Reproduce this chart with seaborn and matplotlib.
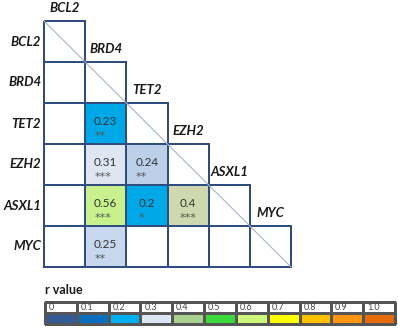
import numpy as np
import pandas as pd
import matplotlib
matplotlib.use("Agg")
import matplotlib.pyplot as plt
from matplotlib.colors import ListedColormap, BoundaryNorm, to_rgba
import seaborn as sns

# -----------------------------
# DATA
# -----------------------------
genes = ["BCL2", "BRD4", "TET2", "EZH2", "ASXL1", "MYC"]

# lower-triangle pairs with a significant correlation
pair_row = ["TET2", "EZH2", "EZH2", "ASXL1", "ASXL1", "ASXL1", "MYC"]
pair_col = ["BRD4", "BRD4", "TET2", "BRD4", "TET2", "EZH2", "BRD4"]
r_values = [0.23, 0.31, 0.24, 0.56, 0.2, 0.4, 0.25]
stars = ["**", "***", "**", "***", "*", "***", "**"]

legend_ticks = ["0", "0.1", "0.2", "0.3", "0.4", "0.5", "0.6", "0.7", "0.8", "0.9", "1.0"]

# -----------------------------
# STYLE
# -----------------------------
sns.set_theme(style="white")
plt.rcParams["font.family"] = ["Lato", "DejaVu Sans"]

border = "#2f4d7e"
cell_bounds = [0.0, 0.215, 0.235, 0.245, 0.28, 0.35, 0.48, 1.0]
cell_colors = ["#00a8e8", "#00a8e8", "#bcd0ea", "#c6d7ee", "#dde6f1", "#cfd8ae", "#c8f08c"]
legend_colors = ["#345a96", "#0a6fc0", "#00b0f0", "#dce6f2", "#a9d18e", "#3cd93c",
                 "#cdf77a", "#ffff00", "#ffc000", "#ff9410", "#e46c0a"]

# matrix of r values (NaN where nothing shown)
n = len(genes)
mat = pd.DataFrame(np.nan, index=genes, columns=genes)
for r, c, v in zip(pair_row, pair_col, r_values):
    mat.loc[r, c] = v

fig = plt.figure(figsize=(3.98, 3.28), dpi=100)
ax = fig.add_axes([44 / 398, 1 - 267 / 328, 247 / 398, 246 / 328])

upper = np.triu(np.ones((n, n), dtype=bool), k=1)

# white staircase (lower triangle incl. diagonal)
sns.heatmap(np.zeros((n, n)), mask=upper, cmap=ListedColormap(["white"]),
            cbar=False, ax=ax)

# coloured cells
sns.heatmap(mat, cmap=ListedColormap(cell_colors),
            norm=BoundaryNorm(cell_bounds, len(cell_colors)),
            cbar=False, ax=ax)

# cell outlines, only on the staircase
sns.heatmap(np.zeros((n, n)), cmap=ListedColormap(["white"]), cbar=False,
            linewidths=1.3, linecolor=border, ax=ax)
outline = ax.collections[-1]
outline.set_facecolor("none")
edge = [to_rgba(border) if not upper[i, j] else (0, 0, 0, 0)
        for i in range(n) for j in range(n)]
outline.set_edgecolor(edge)
outline.set_clip_on(False)

# diagonal line
ax.plot([0, n], [0, n], color="#a7b5c6", lw=0.8, clip_on=False)

# annotations: r value centred, stars underneath starting at its left edge
for r, c, v, s in zip(pair_row, pair_col, r_values, stars):
    i = genes.index(r)
    j = genes.index(c)
    label = f"{v:g}"
    ax.text(j + 0.5, i + 0.44, label, ha="center", va="center",
            fontsize=8.5, color="#333333")
    ax.text(j + 0.5 - 0.07 * len(label), i + 0.80, s, ha="left", va="center",
            fontsize=8, color="#555555", family="DejaVu Sans")

# row labels
ax.set_yticks(np.arange(n) + 0.5)
ax.set_yticklabels(genes, rotation=0, fontsize=9.5, fontweight="bold",
                   fontstyle="italic", color="#1a1a1a")
ax.set_xticks([])
ax.tick_params(axis="y", length=0, pad=2)
ax.set_xlabel("")
ax.set_ylabel("")

# column labels on the steps
for j, g in enumerate(genes):
    ax.text(j + 0.5, j - 0.32, g, ha="center", va="center", fontsize=9.5,
            fontweight="bold", fontstyle="italic", color="#1a1a1a", clip_on=False)

# -----------------------------
# LEGEND (r value scale)
# -----------------------------
fig.text(45 / 398, 1 - 290 / 328, "r value", fontsize=9, fontweight="bold",
         color="#1a1a1a", va="center", ha="left")

lax = fig.add_axes([45 / 398, 1 - 324 / 328, 350 / 398, 22 / 328])
k = len(legend_ticks)
leg_vals = np.vstack([np.full(k, -1.0), np.arange(k)])
sns.heatmap(leg_vals, cmap=ListedColormap(["white"] + legend_colors),
            vmin=-1.5, vmax=k - 0.5, cbar=False, linewidths=0.8,
            linecolor="#555555", ax=lax)
for coll in lax.collections:
    coll.set_clip_on(False)
for j, t in enumerate(legend_ticks):
    lax.text(j + 0.12, 0.5, t, ha="left", va="center", fontsize=6.5, color="#444444")
lax.set_xticks([])
lax.set_yticks([])

fig.savefig("out.png", dpi=100, facecolor="white")
